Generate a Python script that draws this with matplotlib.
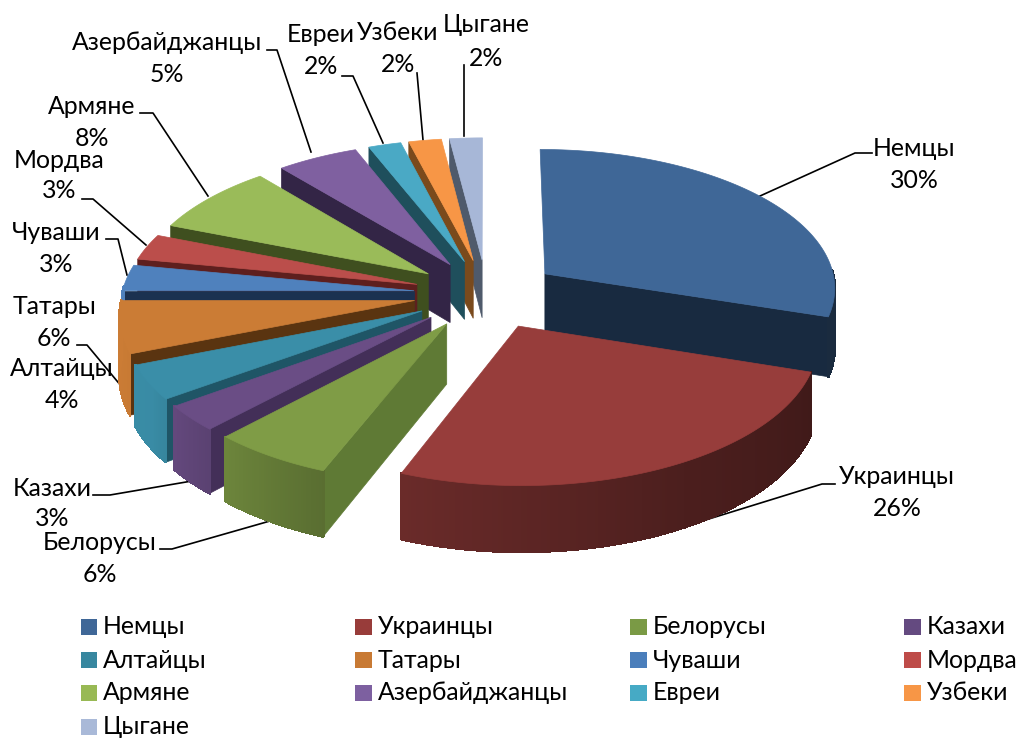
import numpy as np
import matplotlib
matplotlib.use("Agg")
import matplotlib.pyplot as plt
from matplotlib.collections import PolyCollection
from matplotlib.colors import to_rgb
from matplotlib.patches import Rectangle

categories = ["Немцы", "Украинцы", "Белорусы", "Казахи", "Алтайцы", "Татары", "Чуваши",
              "Мордва", "Армяне", "Азербайджанцы", "Евреи", "Узбеки", "Цыгане"]
values = [30, 26, 6, 3, 4, 6, 3, 3, 8, 5, 2, 2, 2]
top_colors = ["#3f6797", "#973d3b", "#7f9c46", "#6a4d85", "#3a8ea8", "#cb7c35", "#4f81bd",
              "#bb4e4b", "#9abb59", "#7f60a0", "#4aa9c5", "#f79646", "#a7b7d7"]
face_colors = ["#182a40", "#3c1a17", "#5f7a35", "#432f58", "#1f5566", "#5a3410", "#1b3150",
               "#5e1f1e", "#3f4f1f", "#332546", "#1f4f5c", "#7a4a1c", "#4f5a6b"]
legend_colors = ["#3f6797", "#983c3a", "#7a9a45", "#644a80", "#37879f", "#c87a34", "#4a7ebb",
                 "#be4b48", "#98b954", "#7d60a0", "#46aac5", "#f79646", "#a9b9d8"]

plt.rcParams["font.family"] = ["Lato", "Open Sans", "DejaVu Sans"]
FS = 17.9
fig = plt.figure(figsize=(10.21, 7.38), dpi=100)
ax = fig.add_axes([0, 0, 1, 1])
ax.set_xlim(0, 1021)
ax.set_ylim(738, 0)
ax.axis("off")

CX, CY, RX, RY, DEPTH, EXPL, PERSP = 486.6, 294, 292, 139, 59, 0.25, 0.09


def project(u, v, z=0.0):
    s = 1 / (1 - PERSP * v)
    return CX + RX * u * s, CY + RY * v * s + z * DEPTH * s


def rim_factor(a):
    return np.interp(a, [90, 108, 150, 201, 223, 240, 270], [.40, .42, .50, .70, .85, .98, 1.0])


total = sum(values)
bounds = np.cumsum([0] + values) / total * 360
mids = (bounds[:-1] + bounds[1:]) / 2
order = np.argsort(-np.cos(np.radians(mids)))

for i in order:
    a0, a1 = bounds[i], bounds[i + 1]
    m = np.radians(mids[i])
    ou, ov = EXPL * np.sin(m), -EXPL * np.cos(m)
    ang = np.linspace(a0, a1, max(int(a1 - a0) * 2, 6))
    r = np.radians(ang)
    u, v = ou + np.sin(r), ov - np.cos(r)
    tx, ty = project(u, v)
    bx, by = project(u, v, 1)
    ax0, ay0 = project(ou, ov)
    bx0, by0 = project(ou, ov, 1)
    z = 2
    if np.sin(np.radians(a0)) < -1e-6:
        ax.fill([ax0, tx[0], bx[0], bx0], [ay0, ty[0], by[0], by0], color=face_colors[i], lw=.5, zorder=z)
    if np.sin(np.radians(a1)) > 1e-6:
        ax.fill([ax0, tx[-1], bx[-1], bx0], [ay0, ty[-1], by[-1], by0], color=face_colors[i], lw=.5, zorder=z)
    quads, cols = [], []
    base = np.array(to_rgb(top_colors[i]))
    for k in range(len(ang) - 1):
        if -np.cos(r[k + 1]) > -0.02 or -np.cos(r[k]) > -0.02:
            quads.append([(tx[k], ty[k]), (tx[k + 1], ty[k + 1]), (bx[k + 1], by[k + 1]), (bx[k], by[k])])
            cols.append(base * rim_factor((ang[k] + ang[k + 1]) / 2))
    if quads:
        ax.add_collection(PolyCollection(quads, facecolors=cols, edgecolors=cols, linewidths=1.2,
                                         antialiaseds=False, zorder=z))
    ax.fill(np.r_[ax0, tx], np.r_[ay0, ty], color=top_colors[i], lw=.5, zorder=z)

# data labels: (name centre, percent centre)
label_pos = {
    "Немцы": (914, 148, 914, 180), "Украинцы": (897, 477, 897, 509), "Белорусы": (100, 543, 100, 575),
    "Казахи": (52, 488, 52, 519), "Алтайцы": (62, 369, 62, 400), "Татары": (54, 306, 54, 338),
    "Чуваши": (56, 232, 56, 264), "Мордва": (59, 160, 59, 191), "Армяне": (92, 106, 92, 138),
    "Азербайджанцы": (167, 42, 167, 75), "Евреи": (321, 34, 321, 66), "Узбеки": (398, 33, 398, 65),
    "Цыгане": (486, 24, 486, 58),
}
leaders = [
    [(872, 153), (855, 153), (760, 196)],
    [(835, 484), (822, 484), (657, 535)],
    [(160, 549), (172, 549), (270, 521)],
    [(93, 495), (110, 495), (192, 481)],
    [(77, 345), (87, 345), (122, 387)],
    [(106, 239), (118, 239), (127, 275)],
    [(82, 199), (93, 199), (146, 245)],
    [(140, 113), (153, 113), (208, 196)],
    [(267, 50), (277, 50), (311, 152)],
    [(342, 76), (353, 76), (383, 143)],
    [(417, 73), (423, 140)],
    [(464, 65), (464, 136)],
]
for pts in leaders:
    xs, ys = zip(*pts)
    ax.plot(xs, ys, color="black", lw=1.2, zorder=1)

for name, val in zip(categories, values):
    x1, y1, x2, y2 = label_pos[name]
    ax.text(x1, y1, name, ha="center", va="center", fontsize=FS, color="black", zorder=5)
    ax.text(x2, y2, f"{val}%", ha="center", va="center", fontsize=FS, color="black", zorder=5)

# legend
col_x = [80.5, 355, 630, 904]
row_y = [626.5, 660, 692.5, 726.5]
for i, (name, c) in enumerate(zip(categories, legend_colors)):
    x, y = col_x[i % 4], row_y[i // 4]
    ax.add_patch(Rectangle((x, y - 8), 16.5, 16, facecolor=c, edgecolor="none", zorder=5))
    ax.text(x + 22.5, y + 0.5, name, ha="left", va="center", fontsize=FS, color="black", zorder=5)

fig.savefig("out.png", dpi=100)
